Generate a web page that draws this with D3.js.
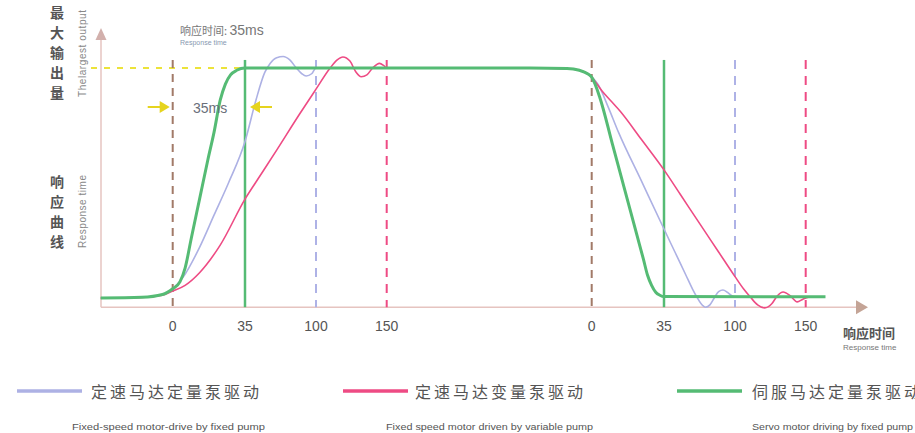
<!DOCTYPE html>
<html>
<head>
<meta charset="utf-8">
<script src="https://cdn.jsdelivr.net/npm/d3@7"></script>
<style>
  html, body { margin: 0; padding: 0; background: #fff; }
  svg { display: block; }
</style>
</head>
<body>
<div id="chart"></div>
<script>
const d3 = window.d3;

// tick labels of both phases (ms)
const tickLabels = [0, 35, 100, 150];

// legend
const seriesNames = ['定速马达定量泵驱动', '定速马达变量泵驱动', '伺服马达定量泵驱动'];
const seriesNamesEn = ['Fixed-speed motor-drive by fixed pump', 'Fixed speed motor driven by variable pump', 'Servo motor driving by fixed pump'];
const seriesColors = ['#adb1e4', '#ee4b84', '#55bb74'];

// response curves, [time ms, output ratio], rising phase
const blueRise = [[-35,0],[-15,0.003],[-5,0.015],[0,0.04],[5,0.09],[13,0.22],[20,0.36],[27,0.5],[35,0.68],[45,0.86],[53,0.98],[58,1.02],[64,1.045],[70,1.05],[76,1.035],[82,1.0],[87,0.975],[91,0.965],[96,0.975],[100,1.0],[150,1.0]];
const pinkRise = [[-35,0],[-15,0.002],[-5,0.012],[0,0.03],[6,0.055],[13,0.11],[23,0.23],[35,0.43],[50,0.54],[64,0.643],[85,0.8],[100,0.908],[110,1.0],[115,1.035],[119,1.048],[124,1.03],[128,0.985],[132,0.962],[136,0.97],[140,1.0],[145,1.02],[148,1.01],[150,1.0]];
const greenRise = [[-35,0],[-15,0.003],[-5,0.015],[0,0.04],[3.5,0.07],[6,0.13],[9,0.26],[13,0.43],[17,0.6],[20,0.72],[23,0.86],[25.5,0.93],[28,0.97],[31,0.99],[35,1],[150,1]];

// falling phase
const blueFall = [[-30,1],[-12,0.997],[-4,0.985],[0,0.96],[3,0.93],[8,0.83],[13,0.72],[24,0.51],[35,0.3],[45,0.2],[55,0.1],[61,0.04],[65,0.005],[69,-0.025],[73,-0.04],[77,-0.03],[81,0],[85,0.028],[89,0.035],[93,0.025],[97,0.01],[100,0.005],[110,0.005]];
const pinkFall = [[-30,1],[-12,0.997],[-4,0.985],[0,0.96],[5,0.9],[9,0.86],[14,0.81],[24,0.69],[35,0.557],[50,0.45],[68,0.321],[85,0.2],[100,0.093],[106,0.04],[111,0.003],[116,-0.03],[121,-0.043],[126,-0.025],[130,0.01],[134,0.026],[139,0.01],[144,-0.017],[148,-0.005],[152,0.003],[156,0.004]];
const greenFall = [[-30,1],[-12,0.998],[-6,0.99],[-2,0.975],[0,0.96],[4,0.87],[10,0.67],[16,0.47],[22,0.27],[25,0.17],[27,0.1],[29,0.055],[31,0.025],[33,0.012],[35,0.006],[164,0.005]];

const width = 915, height = 433;
const riseX0 = 172.7, fallX0 = 591.7;

// schematic time axis: ticks evenly spaced, so use a piecewise scale
const xs = d3.scaleLinear().domain([-35, 0, 35, 100, 150]).range([-72, 0, 72.3, 143.3, 214]);
const y = d3.scaleLinear().domain([0, 1]).range([298, 68]);

const svg = d3.select('#chart').append('svg')
  .attr('width', width).attr('height', height)
  .style('font-family', '"Liberation Sans", Arial, sans-serif');

const cn = '"Noto Sans CJK SC", sans-serif';

// axes
const axisX0 = 101, axisY = y(-0.04);
svg.append('line').attr('x1', axisX0).attr('x2', 856).attr('y1', axisY).attr('y2', axisY)
  .attr('stroke', '#e6c4c0').attr('stroke-width', 1.5);
svg.append('path').attr('d', `M856,${axisY - 7}L868,${axisY}L856,${axisY + 7}Z`).attr('fill', '#c4a496');
svg.append('line').attr('x1', axisX0).attr('x2', axisX0).attr('y1', axisY).attr('y2', 40)
  .attr('stroke', '#e6c4c0').attr('stroke-width', 1.5);
svg.append('path').attr('d', `M${axisX0 - 5.5},40L${axisX0},28L${axisX0 + 5.5},40Z`).attr('fill', '#d2b0ac');

// yellow dashed top line
svg.append('line').attr('x1', 91).attr('x2', riseX0 + xs(45)).attr('y1', y(1)).attr('y2', y(1))
  .attr('stroke', '#ece33a').attr('stroke-width', 2).attr('stroke-dasharray', '6,7');

// vertical marker lines
const markTop = y(1.035);
const markStyle = [
  {t: 0, color: '#a27a68', dash: '8,6', w: 2},
  {t: 35, color: '#55bb74', dash: null, w: 2.5},
  {t: 100, color: '#aeb2e6', dash: '9,7', w: 2},
  {t: 150, color: '#ee4b84', dash: '9,7', w: 2}
];
[riseX0, fallX0].forEach(x0 => {
  markStyle.forEach(m => {
    svg.append('line').attr('x1', x0 + xs(m.t)).attr('x2', x0 + xs(m.t))
      .attr('y1', markTop).attr('y2', axisY)
      .attr('stroke', m.color).attr('stroke-width', m.w)
      .attr('stroke-dasharray', m.dash);
  });
  svg.selectAll(null).data(tickLabels).enter().append('text')
    .attr('x', d => x0 + xs(d)).attr('y', 331)
    .attr('text-anchor', 'middle').attr('font-size', 14).attr('fill', '#555')
    .text(d => d);
});

// curves
const line = d3.line().curve(d3.curveMonotoneX);
const toPts = (rise, fall) => rise.map(([t, v]) => [riseX0 + xs(t), y(v)])
  .concat(fall.map(([t, v]) => [fallX0 + xs(t), y(v)]));
const curves = [
  {pts: toPts(blueRise, blueFall), color: seriesColors[0], w: 1.6},
  {pts: toPts(pinkRise, pinkFall), color: seriesColors[1], w: 1.6},
  {pts: toPts(greenRise, greenFall), color: seriesColors[2], w: 3}
];
svg.selectAll('.curve').data(curves).enter().append('path').attr('class', 'curve')
  .attr('d', d => line(d.pts)).attr('fill', 'none')
  .attr('stroke', d => d.color).attr('stroke-width', d => d.w)
  .attr('stroke-linejoin', 'round');

// response time arrows
const arrowY = 107;
const lx = riseX0 + xs(0) - 3, rx = riseX0 + xs(35) + 5;
svg.append('path').attr('d', `M${lx - 22},${arrowY}H${lx - 8}`).attr('stroke', '#e6d41e').attr('stroke-width', 2);
svg.append('path').attr('d', `M${lx - 10},${arrowY - 6}L${lx},${arrowY}L${lx - 10},${arrowY + 6}Z`).attr('fill', '#e6d41e');
svg.append('path').attr('d', `M${rx + 8},${arrowY}H${rx + 22}`).attr('stroke', '#e6d41e').attr('stroke-width', 2);
svg.append('path').attr('d', `M${rx + 10},${arrowY - 6}L${rx},${arrowY}L${rx + 10},${arrowY + 6}Z`).attr('fill', '#e6d41e');
svg.append('text').attr('x', 193).attr('y', 113).attr('font-size', 14).attr('fill', '#6a6f7a').text('35ms');

// title
const title = svg.append('text').attr('x', 180).attr('y', 35).attr('fill', '#777');
title.append('tspan').attr('font-family', cn).attr('font-size', 11).text('响应时间: ');
title.append('tspan').attr('font-size', 14).text('35ms');
svg.append('text').attr('x', 180).attr('y', 45).attr('font-size', 7).attr('fill', '#8898b0').text('Response time');

// y labels
const yLab1 = ['最', '大', '输', '出', '量'];
const yLab2 = ['响', '应', '曲', '线'];
svg.selectAll(null).data(yLab1).enter().append('text')
  .attr('x', 57).attr('y', (d, i) => 18 + i * 20).attr('text-anchor', 'middle')
  .attr('font-family', cn).attr('font-size', 14).attr('font-weight', 'bold').attr('fill', '#555').text(d => d);
svg.selectAll(null).data(yLab2).enter().append('text')
  .attr('x', 57).attr('y', (d, i) => 187 + i * 20).attr('text-anchor', 'middle')
  .attr('font-family', cn).attr('font-size', 14).attr('font-weight', 'bold').attr('fill', '#555').text(d => d);
svg.append('text').attr('transform', 'translate(86,97) rotate(-90)')
  .attr('font-size', 10).attr('fill', '#888').attr('textLength', 87).text('Thelargest output');
svg.append('text').attr('transform', 'translate(86,248) rotate(-90)')
  .attr('font-size', 10).attr('fill', '#888').attr('textLength', 73).text('Response time');

// x axis name
svg.append('text').attr('x', 843).attr('y', 338).attr('font-family', cn).attr('font-size', 13)
  .attr('font-weight', 'bold').attr('fill', '#555').text('响应时间');
svg.append('text').attr('x', 843).attr('y', 350).attr('font-size', 8).attr('fill', '#777').text('Response time');

// legend
const legendPos = [
  {lx: 17, tx: 91, ex: 72},
  {lx: 343, tx: 415, ex: 386},
  {lx: 677, tx: 752, ex: 752}
];
const lg = svg.selectAll('.lg').data(seriesNames).enter().append('g').attr('class', 'lg');
lg.append('line').attr('x1', (d, i) => legendPos[i].lx).attr('x2', (d, i) => legendPos[i].lx + 65)
  .attr('y1', 391).attr('y2', 391).attr('stroke', (d, i) => seriesColors[i]).attr('stroke-width', 3.5);
lg.append('text').attr('x', (d, i) => legendPos[i].tx).attr('y', 398)
  .attr('font-family', cn).attr('font-size', 16).attr('fill', '#555')
  .attr('letter-spacing', 3).text(d => d);
lg.append('text').attr('x', (d, i) => legendPos[i].ex).attr('y', 430)
  .attr('font-size', 9.5).attr('fill', '#555')
  .attr('textLength', (d, i) => [193, 207, 161][i]).attr('lengthAdjust', 'spacingAndGlyphs')
  .text((d, i) => seriesNamesEn[i]);
</script>
</body>
</html>
